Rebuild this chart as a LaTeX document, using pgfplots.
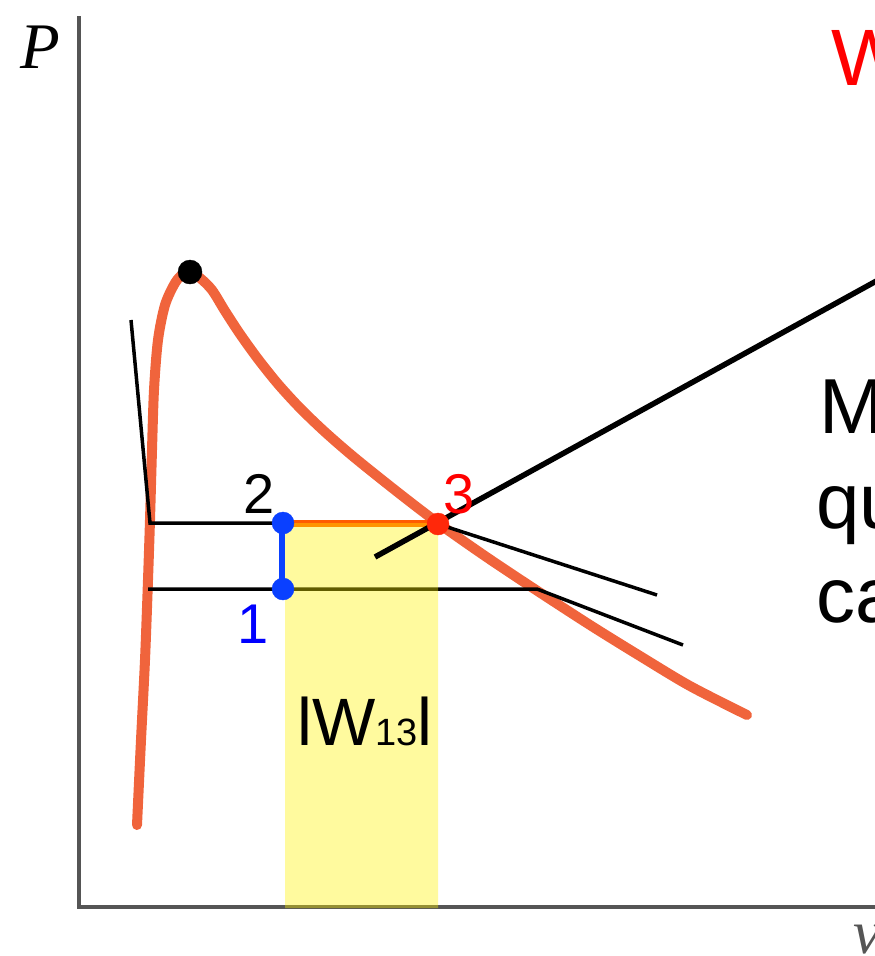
\documentclass[border=0pt]{standalone}
\usepackage{fontspec}
\setmainfont{Liberation Sans}
\newfontfamily\tnr{Liberation Serif}
\usepackage{pgfplots}
\pgfplotsset{compat=1.18}

\definecolor{curve}{RGB}{240,100,60}
\definecolor{ptblue}{RGB}{10,64,255}
\definecolor{ptred}{RGB}{255,40,10}
\definecolor{seg}{RGB}{255,90,0}
\definecolor{axgray}{RGB}{85,85,85}

\begin{document}
\begin{tikzpicture}
\useasboundingbox (0,0) rectangle (875pt,956pt);
\begin{axis}[at={(0pt,0pt)}, anchor=south west,
    width=875pt, height=956pt, scale only axis, hide axis,
    xmin=0, xmax=875, ymin=0, ymax=956, y dir=reverse]

% axes (pixel coordinates, y downwards)
\addplot[axgray, line width=4.5pt] coordinates {(79,16) (79,907) (880,907)};

% isotherm
\addplot[curve, line width=10pt, smooth, tension=0.5, line cap=round] coordinates {
    (137,825) (141,740) (145,660) (148,580) (150,520) (152,450) (154,390)
    (158,340) (165,305) (175,283) (183,274) (190,272) (200,278) (212,290)
    (225,311) (240,334) (258,359) (278,384) (300,408) (325,432) (355,458)
    (400,494) (438,523) (485,556) (533,588) (590,625) (640,656) (690,686)
    (747,715)};

% thin black construction lines
\addplot[black, line width=3.5pt] coordinates {(131,320) (150,523) (283,523)};
\addplot[black, line width=3.5pt] coordinates {(148,589) (537,589) (683,645)};
\addplot[black, line width=3.5pt] coordinates {(438,524) (657,595)};

% process 2-3 and 1-2
\addplot[seg, line width=7pt] coordinates {(283,523) (438,523)};
\addplot[ptblue, line width=6pt] coordinates {(282,523) (282,589)};

% state points
\addplot[only marks, mark=*, mark size=11pt, ptblue] coordinates {(283,523) (283,589)};
\addplot[only marks, mark=*, mark size=11pt, ptred] coordinates {(438,524)};
\addplot[only marks, mark=*, mark size=12pt, black] coordinates {(190,272)};

% work area
\addplot[draw=none, fill=yellow, fill opacity=0.38] coordinates {
    (285,523) (438,523) (438,908) (285,908) (285,523)};

% pointer
\addplot[black, line width=5.5pt] coordinates {(375,557) (900,268)};

% labels
\node[anchor=base west, inner sep=0pt, font=\tnr\itshape\fontsize{65}{70}\selectfont] at (axis cs:20,68) {P};
\node[anchor=base west, inner sep=0pt, font=\tnr\itshape\fontsize{62}{70}\selectfont, axgray] at (axis cs:853,953) {v};
\node[anchor=base west, inner sep=0pt, font=\fontsize{56}{60}\selectfont] at (axis cs:243,513) {2};
\node[anchor=base west, inner sep=0pt, font=\fontsize{56}{60}\selectfont, red] at (axis cs:443,513) {3};
\node[anchor=base west, inner sep=0pt, font=\fontsize{56}{60}\selectfont, blue] at (axis cs:237,643) {1};
\node[anchor=base west, inner sep=0pt, font=\fontsize{67}{70}\selectfont] at (axis cs:297,745)
    {lW{\fontsize{38}{40}\selectfont 13}l};
\node[anchor=base west, inner sep=0pt, font=\fontsize{80}{90}\selectfont, red] at (axis cs:831,85) {W};
\node[anchor=base west, inner sep=0pt, font=\fontsize{78}{90}\selectfont] at (axis cs:819,433) {M};
\node[anchor=base west, inner sep=0pt, font=\fontsize{78}{90}\selectfont] at (axis cs:816,528) {qu};
\node[anchor=base west, inner sep=0pt, font=\fontsize{78}{90}\selectfont] at (axis cs:816,622) {ca};
\end{axis}
\end{tikzpicture}
\end{document}
